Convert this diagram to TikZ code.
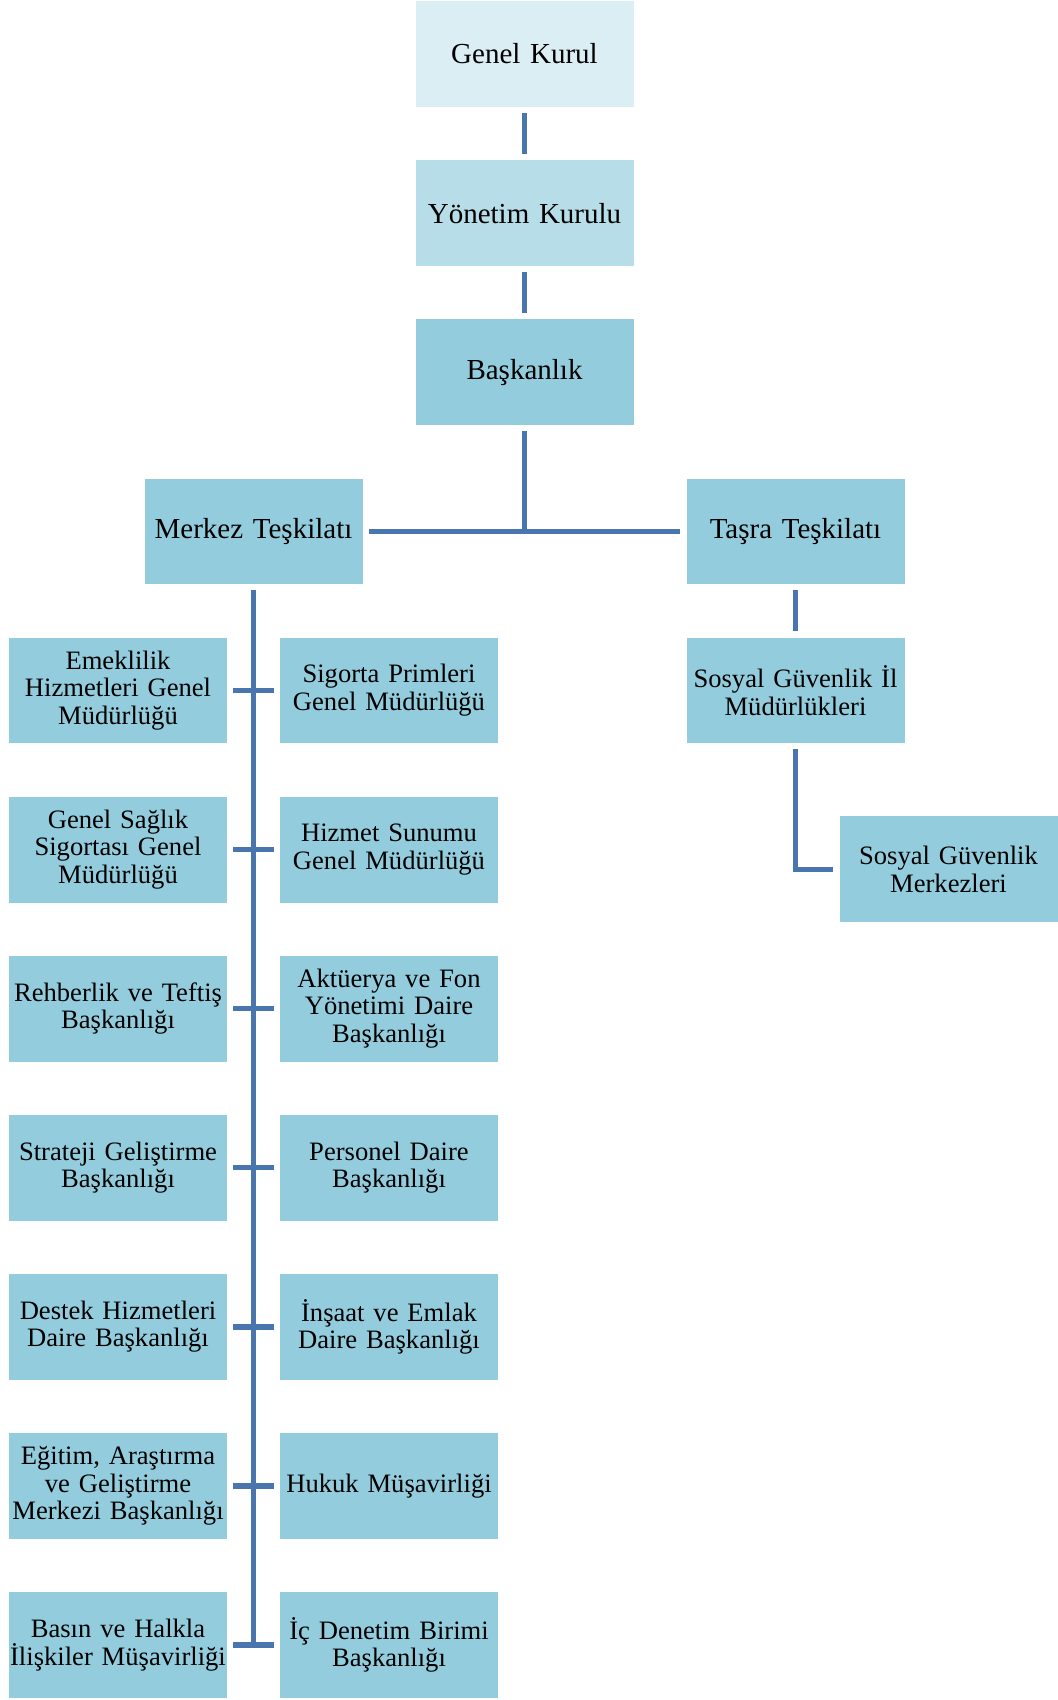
\documentclass[tikz,border=0pt]{standalone}
\usepackage{fontspec}
\setmainfont{Liberation Serif}
\usetikzlibrary{positioning}
\definecolor{palebox}{RGB}{219,238,244}
\definecolor{lightbox}{RGB}{183,222,232}
\definecolor{unitbox}{RGB}{147,205,221}
\definecolor{linkblue}{RGB}{74,118,176}

\begin{document}
\begin{tikzpicture}[
    node distance=26.15pt,
    every node/.style={draw=white, line width=0.4pt, rectangle, fill=unitbox, minimum width=109.5pt, minimum height=53.4pt, inner sep=0pt, outer sep=0pt, text width=108pt, align=center, font=\fontsize{13.3}{13.8}\selectfont},
    top/.style={font=\fontsize{14.5}{15}\selectfont},
    link/.style={draw=linkblue, line width=2.7pt, shorten <=2.8pt, shorten >=2.8pt}
]
\useasboundingbox (0,0) rectangle (529pt,-850pt);

\node[top, fill=palebox] (gk) at (262.25pt,-27pt) {Genel Kurul};
\node[top, fill=lightbox, below=of gk] (yk) {Yönetim Kurulu};
\node[top, below=of yk] (bk) {Başkanlık};
\node[top, below=of bk, xshift=-135.5pt] (merkez) {Merkez Teşkilatı};
\node[top, below=of bk, xshift=135.5pt] (tasra) {Taşra Teşkilatı};

% merkez birimleri
\node[below=of merkez, xshift=-67.75pt] (emek) {Emeklilik\\Hizmetleri Genel\\Müdürlüğü};
\node[below=of emek] (gss) {Genel Sağlık\\Sigortası Genel\\Müdürlüğü};
\node[below=of gss] (rehber) {Rehberlik ve Teftiş\\Başkanlığı};
\node[below=of rehber] (strateji) {Strateji Geliştirme\\Başkanlığı};
\node[below=of strateji] (destek) {Destek Hizmetleri\\Daire Başkanlığı};
\node[below=of destek] (egitim) {Eğitim, Araştırma\\ve Geliştirme\\Merkezi Başkanlığı};
\node[below=of egitim] (basin) {Basın ve Halkla\\İlişkiler Müşavirliği};

\node[below=of merkez, xshift=67.75pt] (sigorta) {Sigorta Primleri\\Genel Müdürlüğü};
\node[below=of sigorta] (hizmet) {Hizmet Sunumu\\Genel Müdürlüğü};
\node[below=of hizmet] (akt) {Aktüerya ve Fon\\Yönetimi Daire\\Başkanlığı};
\node[below=of akt] (personel) {Personel Daire\\Başkanlığı};
\node[below=of personel] (insaat) {İnşaat ve Emlak\\Daire Başkanlığı};
\node[below=of insaat] (hukuk) {Hukuk Müşavirliği};
\node[below=of hukuk] (denetim) {İç Denetim Birimi\\Başkanlığı};

% taşra
\node[below=of tasra] (sgil) {Sosyal Güvenlik İl\\Müdürlükleri};
\node[below=36pt of sgil, xshift=76.5pt] (sgm) {Sosyal Güvenlik\\Merkezleri};

\draw[link] (gk) -- (yk);
\draw[link] (yk) -- (bk);
\draw[link, shorten >=0pt] (bk) -- (bk |- merkez);
\draw[link] (merkez) -- (tasra);
\draw[link, shorten >=-1.35pt] (merkez) -- (merkez |- basin);
\draw[link] (emek) -- (sigorta);
\draw[link] (gss) -- (hizmet);
\draw[link] (rehber) -- (akt);
\draw[link] (strateji) -- (personel);
\draw[link] (destek) -- (insaat);
\draw[link] (egitim) -- (hukuk);
\draw[link] (basin) -- (denetim);
\draw[link] (tasra) -- (sgil);
\draw[link] (sgil) |- (sgm);

\end{tikzpicture}
\end{document}
